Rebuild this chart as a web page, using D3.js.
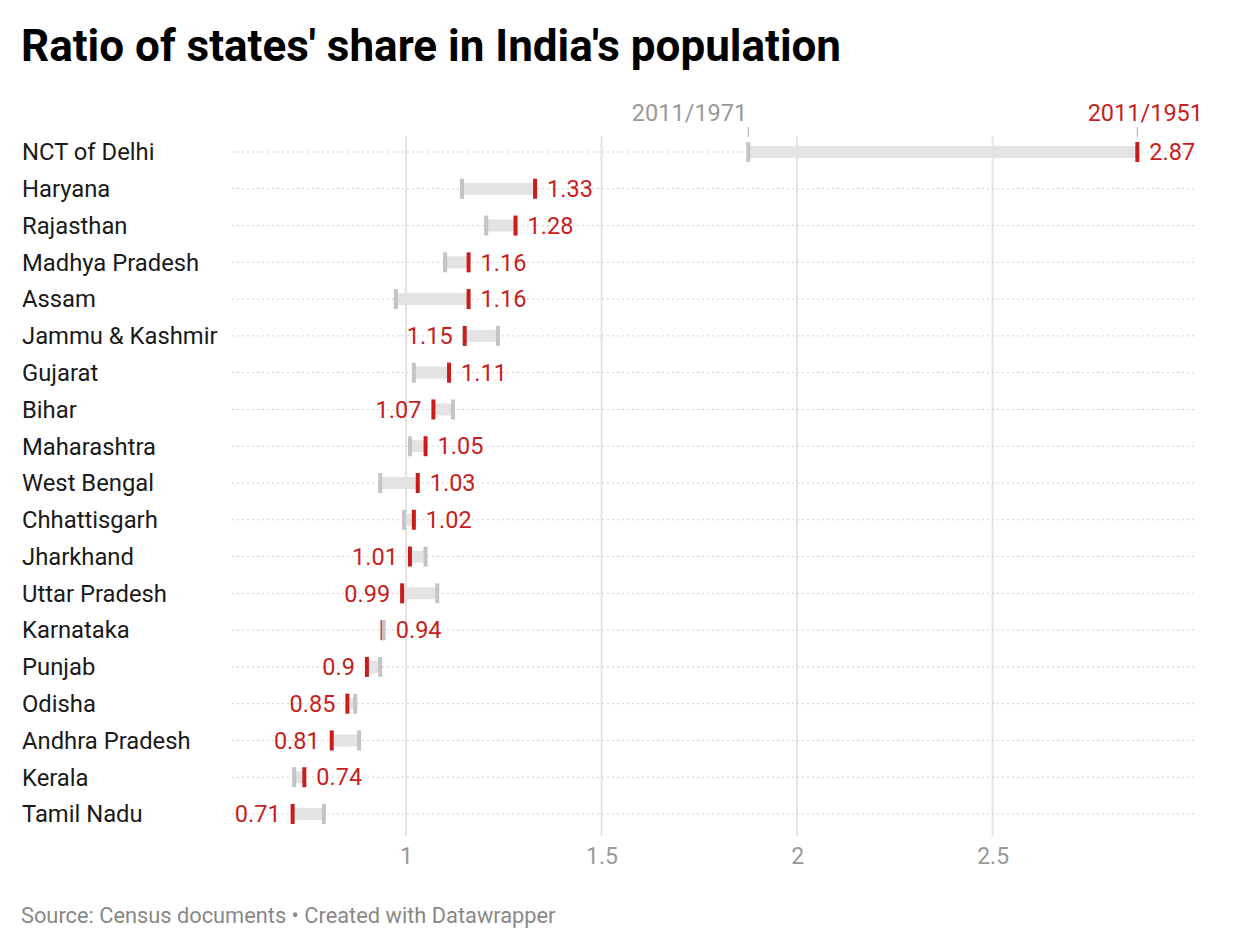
<!DOCTYPE html>
<html>
<head>
<meta charset="utf-8">
<script src="https://cdn.jsdelivr.net/npm/d3@7"></script>
<style>
  body { margin: 0; background: #fff; font-family: Roboto, "Noto Sans", sans-serif; }
</style>
</head>
<body>
<div id="holder"></div>
<script>
var states = ['NCT of Delhi', 'Haryana', 'Rajasthan', 'Madhya Pradesh', 'Assam', 'Jammu & Kashmir',
  'Gujarat', 'Bihar', 'Maharashtra', 'West Bengal', 'Chhattisgarh', 'Jharkhand', 'Uttar Pradesh',
  'Karnataka', 'Punjab', 'Odisha', 'Andhra Pradesh', 'Kerala', 'Tamil Nadu'];
// 2011/1971
var ratio1971 = [1.875, 1.143, 1.205, 1.10, 0.974, 1.235, 1.02, 1.12, 1.01, 0.934, 0.995, 1.05, 1.08,
  0.943, 0.934, 0.87, 0.88, 0.714, 0.79];
// 2011/1951
var ratio1951 = [2.87, 1.33, 1.28, 1.16, 1.16, 1.15, 1.11, 1.07, 1.05, 1.03, 1.02, 1.01, 0.99,
  0.94, 0.90, 0.85, 0.81, 0.74, 0.71];
var xTicks = [1, 1.5, 2, 2.5];

var rows = states.map(function(s, i) {
  return { state: s, a: ratio1971[i], b: ratio1951[i] };
});

var fullWidth = 1240, fullHeight = 952;
var red = '#c71e1d', grey = '#c4c4c4';

var svg = d3.select('#holder').append('svg')
  .attr('width', fullWidth)
  .attr('height', fullHeight);

svg.append('text')
  .attr('x', 21).attr('y', 61)
  .attr('font-size', 44).attr('font-weight', 700).attr('fill', '#000')
  .text("Ratio of states' share in India's population");

var x = d3.scaleLinear().domain([0.555, 3.02]).range([232, 1196]);
var y = d3.scalePoint().domain(states).range([152, 814]);

// vertical grid
svg.append('g').selectAll('line')
  .data(xTicks).enter().append('line')
  .attr('x1', function(d) { return x(d); }).attr('x2', function(d) { return x(d); })
  .attr('y1', 136).attr('y2', 836)
  .attr('stroke', '#e4e4e4').attr('stroke-width', 2);

// axis labels
var xaxis = d3.axisBottom(x).tickValues(xTicks).tickSize(0).tickFormat(d3.format('~g'));
var ax = svg.append('g').attr('transform', 'translate(0,845)').call(xaxis);
ax.select('.domain').remove();
ax.selectAll('text').attr('font-size', 23).attr('fill', '#999').attr('font-family', 'Roboto');

// dotted row lines
svg.append('g').selectAll('line')
  .data(rows).enter().append('line')
  .attr('x1', 232).attr('x2', 1196)
  .attr('y1', function(d) { return y(d.state); }).attr('y2', function(d) { return y(d.state); })
  .attr('stroke', '#d0d0d0').attr('stroke-width', 1).attr('stroke-dasharray', '2,3');

// state labels
svg.append('g').selectAll('text')
  .data(rows).enter().append('text')
  .attr('x', 22).attr('y', function(d) { return y(d.state); })
  .attr('dy', '0.35em').attr('font-size', 23.8).attr('fill', '#1a1a1a')
  .text(function(d) { return d.state; });

// range bars
svg.append('g').selectAll('rect')
  .data(rows).enter().append('rect')
  .attr('x', function(d) { return x(Math.min(d.a, d.b)); })
  .attr('width', function(d) { return Math.abs(x(d.b) - x(d.a)); })
  .attr('y', function(d) { return y(d.state) - 6; })
  .attr('height', 12)
  .attr('fill', '#e3e3e3');

// red ticks (2011/1951)
svg.append('g').selectAll('rect')
  .data(rows).enter().append('rect')
  .attr('x', function(d) { return x(d.b) - 2; })
  .attr('y', function(d) { return y(d.state) - 10; })
  .attr('width', 4).attr('height', 20)
  .attr('fill', red);

// grey ticks (2011/1971)
svg.append('g').selectAll('rect')
  .data(rows).enter().append('rect')
  .attr('x', function(d) { return x(d.a) - 2; })
  .attr('y', function(d) { return y(d.state) - 10; })
  .attr('width', 4).attr('height', 20)
  .attr('fill', grey);

// value labels
svg.append('g').selectAll('text')
  .data(rows).enter().append('text')
  .attr('x', function(d) { return d.b >= d.a - 0.005 ? x(Math.max(d.a, d.b)) + 12 : x(d.b) - 12; })
  .attr('text-anchor', function(d) { return d.b >= d.a - 0.005 ? 'start' : 'end'; })
  .attr('y', function(d) { return y(d.state); })
  .attr('dy', '0.35em').attr('font-size', 23.5).attr('fill', red)
  .text(function(d) { return d3.format('~g')(d.b); });

// series headers above first row
var first = rows[0];
svg.append('line')
  .attr('x1', x(first.a)).attr('x2', x(first.a)).attr('y1', 127).attr('y2', 137)
  .attr('stroke', '#aaa').attr('stroke-width', 1);
svg.append('line')
  .attr('x1', x(first.b)).attr('x2', x(first.b)).attr('y1', 127).attr('y2', 137)
  .attr('stroke', '#aaa').attr('stroke-width', 1);
svg.append('text')
  .attr('x', x(first.a) - 1).attr('y', 121).attr('text-anchor', 'end')
  .attr('font-size', 23.5).attr('fill', '#999').text('2011/1971');
svg.append('text')
  .attr('x', x(first.b) + 8).attr('y', 121).attr('text-anchor', 'middle')
  .attr('font-size', 23.5).attr('fill', red).text('2011/1951');

svg.append('text')
  .attr('x', 21).attr('y', 923)
  .attr('font-size', 21.8).attr('fill', '#888')
  .text('Source: Census documents \u2022 Created with Datawrapper');
</script>
</body>
</html>
